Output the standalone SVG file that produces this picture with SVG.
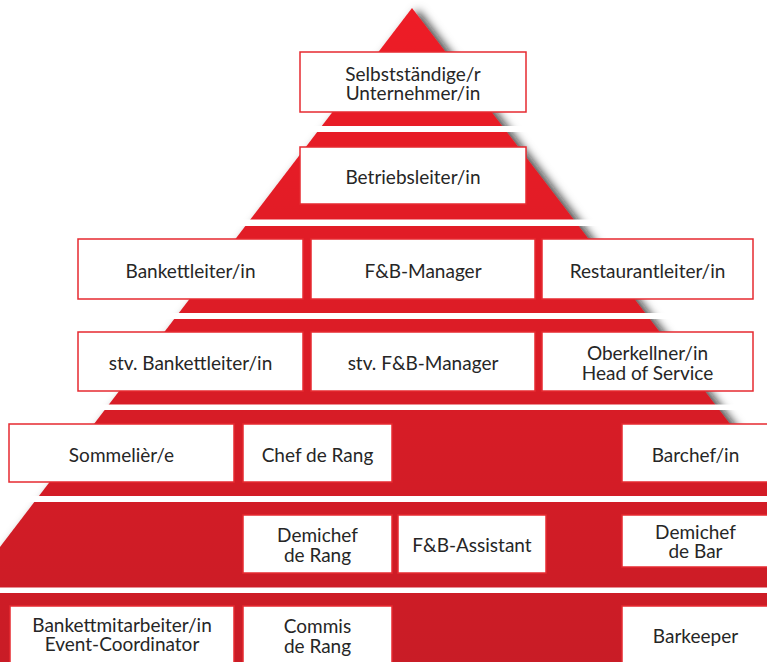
<svg xmlns="http://www.w3.org/2000/svg" width="767" height="662" viewBox="0 0 767 662">
<defs>
<linearGradient id="red" gradientUnits="userSpaceOnUse" x1="0" y1="8" x2="0" y2="662">
<stop offset="0" stop-color="#ee1c25"/>
<stop offset="1" stop-color="#c91d25"/>
</linearGradient>
<filter id="sh" x="-20%" y="-10%" width="140%" height="120%">
<feDropShadow dx="6" dy="2" stdDeviation="5" flood-color="#111" flood-opacity="0.8"/>
</filter>
<style>
.box{fill:#ffffff;stroke:#e62a30;stroke-width:1.5}
.t{font-family:"Lato","Liberation Sans",sans-serif;font-size:19px;fill:#262626;text-anchor:middle}
.gap{fill:#ffffff}
</style>
</defs>
<rect width="767" height="662" fill="#ffffff"/>
<g id="pyramid">
<path d="M412,8 L912,662 L-88,662 Z" fill="url(#red)" filter="url(#sh)"/>
<rect class="gap" x="0" y="126" width="767" height="6"/>
<rect class="gap" x="0" y="219.5" width="767" height="6.5"/>
<rect class="gap" x="0" y="313" width="767" height="6"/>
<rect class="gap" x="0" y="404.5" width="767" height="5.5"/>
<rect class="gap" x="0" y="496" width="767" height="6"/>
<rect class="gap" x="0" y="587.5" width="767" height="5.5"/>
</g>
<g id="connectors"></g>
<g id="n-selbst">
<rect class="box" x="300" y="52" width="226" height="60"/>
<text class="t" x="413" y="81">Selbstständige/r</text>
<text class="t" x="413" y="100.3">Unternehmer/in</text>
</g>
<g id="n-betriebsleiter">
<rect class="box" x="300" y="147" width="226" height="57"/>
<text class="t" x="413" y="184">Betriebsleiter/in</text>
</g>
<g id="n-bankettleiter">
<rect class="box" x="78" y="239" width="225" height="60"/>
<text class="t" x="190.5" y="278">Bankettleiter/in</text>
</g>
<g id="n-fb-manager">
<rect class="box" x="311" y="239" width="224" height="60"/>
<text class="t" x="423" y="278">F&amp;B-Manager</text>
</g>
<g id="n-restaurantleiter">
<rect class="box" x="542" y="239" width="211" height="60"/>
<text class="t" x="647.5" y="278">Restaurantleiter/in</text>
</g>
<g id="n-stv-bankettleiter">
<rect class="box" x="78" y="332" width="225" height="59"/>
<text class="t" x="190.5" y="370">stv. Bankettleiter/in</text>
</g>
<g id="n-stv-fb-manager">
<rect class="box" x="311" y="332" width="224" height="59"/>
<text class="t" x="423" y="370">stv. F&amp;B-Manager</text>
</g>
<g id="n-oberkellner">
<rect class="box" x="542" y="332" width="211" height="59"/>
<text class="t" x="647.5" y="359.5">Oberkellner/in</text>
<text class="t" x="647.5" y="379.5">Head of Service</text>
</g>
<g id="n-sommelier">
<rect class="box" x="9" y="424" width="225" height="58"/>
<text class="t" x="121.5" y="461.5">Sommelièr/e</text>
</g>
<g id="n-chef-de-rang">
<rect class="box" x="243" y="424" width="149" height="58"/>
<text class="t" x="317.5" y="461.5">Chef de Rang</text>
</g>
<g id="n-barchef">
<rect class="box" x="622" y="424" width="150" height="58"/>
<text class="t" x="695.5" y="461.5">Barchef/in</text>
</g>
<g id="n-demichef-rang">
<rect class="box" x="243" y="515" width="149" height="58"/>
<text class="t" x="317.5" y="542">Demichef</text>
<text class="t" x="317.5" y="562">de Rang</text>
</g>
<g id="n-fb-assistant">
<rect class="box" x="398" y="515" width="148" height="58"/>
<text class="t" x="472" y="552">F&amp;B-Assistant</text>
</g>
<g id="n-demichef-bar">
<rect class="box" x="622" y="515" width="150" height="52"/>
<text class="t" x="695.5" y="538.5">Demichef</text>
<text class="t" x="695.5" y="558.3">de Bar</text>
</g>
<g id="n-bankettmitarbeiter">
<rect class="box" x="10" y="606" width="224" height="62"/>
<text class="t" x="122" y="631.8">Bankettmitarbeiter/in</text>
<text class="t" x="122" y="651">Event-Coordinator</text>
</g>
<g id="n-commis">
<rect class="box" x="243" y="606" width="149" height="62"/>
<text class="t" x="317.5" y="632.8">Commis</text>
<text class="t" x="317.5" y="652.7">de Rang</text>
</g>
<g id="n-barkeeper">
<rect class="box" x="622" y="606" width="150" height="62"/>
<text class="t" x="695.5" y="642.5">Barkeeper</text>
</g>
</svg>
